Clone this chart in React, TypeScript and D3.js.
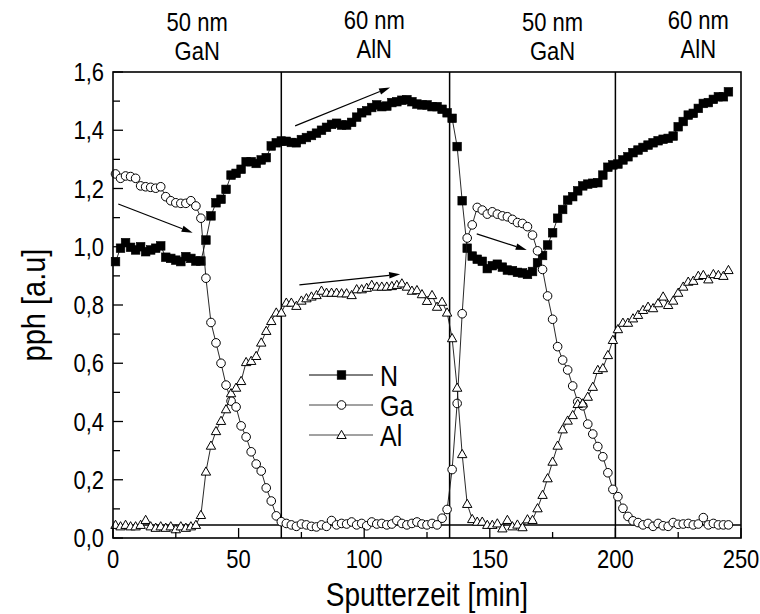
import React from 'react';
import * as d3 from 'd3';

// sputter time [min]
const time = [
  1, 3, 5, 7, 9, 11, 13, 15, 17, 19, 21, 23, 25, 27, 29, 31, 33, 35, 37, 39,
  41, 43, 45, 47, 49, 51, 53, 55, 57, 59, 61, 63, 65, 67, 69, 71, 73, 75, 77, 79,
  81, 83, 85, 87, 89, 91, 93, 95, 97, 99, 101, 103, 105, 107, 109, 111, 113, 115, 117, 119,
  121, 123, 125, 127, 129, 131, 133, 135, 137, 139, 141, 143, 145, 147, 149, 151, 153, 155, 157, 159,
  161, 163, 165, 167, 169, 171, 173, 175, 177, 179, 181, 183, 185, 187, 189, 191, 193, 195, 197, 199,
  201, 203, 205, 207, 209, 211, 213, 215, 217, 219, 221, 223, 225, 227, 229, 231, 233, 235, 237, 239,
  241, 243, 245,
];

const nitrogen = [
  0.949, 0.995, 1.014, 0.998, 0.989, 1.0, 0.983, 0.989, 0.995, 1.003, 0.964, 0.96, 0.954, 0.949, 0.966, 0.96, 0.951, 0.951,
  1.023, 1.106, 1.151, 1.163, 1.197, 1.246, 1.252, 1.266, 1.292, 1.292, 1.286, 1.298, 1.306, 1.346, 1.357,
  1.363, 1.362, 1.358, 1.357, 1.368, 1.375, 1.382, 1.39, 1.4, 1.41, 1.42, 1.424, 1.418, 1.418, 1.427, 1.445, 1.46,
  1.467, 1.478, 1.487, 1.481, 1.483, 1.495, 1.498, 1.503, 1.505, 1.498, 1.49, 1.487, 1.487, 1.481, 1.481, 1.472, 1.46,
  1.441, 1.344, 1.158, 0.995, 0.968,
  0.957, 0.95, 0.925, 0.935, 0.94, 0.93, 0.92, 0.918, 0.912, 0.91, 0.905, 0.915, 0.945, 0.97, 1.006, 1.048, 1.098,
  1.128, 1.16, 1.172, 1.192, 1.209, 1.215, 1.218, 1.22, 1.246, 1.273, 1.281, 1.284, 1.298, 1.309, 1.323, 1.332,
  1.341, 1.349, 1.357, 1.364, 1.369, 1.372, 1.38, 1.412, 1.43, 1.452, 1.458, 1.475, 1.492, 1.495, 1.506, 1.515,
  1.515, 1.532,
];

const gallium = [
  1.25, 1.235, 1.243, 1.241, 1.235, 1.209, 1.206, 1.204, 1.201, 1.206, 1.172, 1.158, 1.151, 1.149, 1.149, 1.158, 1.14, 1.098,
  0.892, 0.74, 0.67, 0.6, 0.525, 0.47, 0.45, 0.385, 0.347, 0.296, 0.254, 0.23, 0.172, 0.127, 0.076, 0.056,
  0.05, 0.045, 0.04, 0.048, 0.045, 0.04, 0.038, 0.045, 0.04, 0.06, 0.045, 0.05, 0.048, 0.055, 0.045, 0.05,
  0.042, 0.055, 0.048, 0.05, 0.045, 0.048, 0.06, 0.05, 0.045, 0.05, 0.055, 0.048, 0.045, 0.05, 0.045,
  0.068, 0.098, 0.235, 0.462, 0.77, 1.03, 1.075,
  1.135, 1.126, 1.112, 1.12, 1.112, 1.106, 1.103, 1.094, 1.083, 1.08, 1.069, 1.04, 0.986, 0.922,
  0.831, 0.751, 0.657, 0.611, 0.577, 0.522, 0.468, 0.454, 0.391, 0.357, 0.314, 0.279, 0.224, 0.167, 0.142, 0.102, 0.074,
  0.059, 0.053, 0.045, 0.05, 0.04, 0.05, 0.042, 0.04, 0.053, 0.047, 0.048, 0.05, 0.045, 0.048, 0.07, 0.045,
  0.05, 0.045, 0.045, 0.045,
];

const aluminium = [
  0.045, 0.04, 0.045, 0.04, 0.04, 0.045, 0.062, 0.04, 0.035, 0.04, 0.035, 0.04, 0.03, 0.04, 0.035, 0.04, 0.045,
  0.079, 0.228, 0.317, 0.367, 0.402, 0.442, 0.497, 0.516, 0.539, 0.604, 0.608, 0.625, 0.671, 0.711, 0.745, 0.774,
  0.774, 0.808, 0.808, 0.797, 0.815, 0.823, 0.829, 0.834, 0.849, 0.842, 0.842, 0.842, 0.84, 0.84, 0.834, 0.854, 0.854,
  0.859, 0.869, 0.863, 0.863, 0.863, 0.865, 0.869, 0.874, 0.863, 0.849, 0.851, 0.837, 0.814, 0.834, 0.794, 0.811, 0.774,
  0.686, 0.516, 0.288, 0.117, 0.065,
  0.056, 0.056, 0.045, 0.045, 0.05, 0.033, 0.062, 0.04, 0.046, 0.037, 0.064, 0.062,
  0.102, 0.148, 0.205, 0.262, 0.317, 0.373, 0.403, 0.422, 0.46, 0.462, 0.485, 0.519, 0.577, 0.583, 0.628, 0.68,
  0.717, 0.739, 0.739, 0.754, 0.766, 0.783, 0.794, 0.789, 0.806, 0.829, 0.8, 0.815, 0.842, 0.863, 0.88, 0.883,
  0.9, 0.903, 0.888, 0.906, 0.903, 0.9, 0.92,
];

const seriesNames = ['N', 'Ga', 'Al'];
const xTicks = [0, 50, 100, 150, 200, 250];
const xMinorTicks = [25, 75, 125, 175, 225];
const yTicks = [0, 0.2, 0.4, 0.6, 0.8, 1.0, 1.2, 1.4, 1.6];
const yMinorTicks = [0.1, 0.3, 0.5, 0.7, 0.9, 1.1, 1.3, 1.5];
const layerBoundaries = [67, 134, 200];
const baselineLevel = 0.045;
const layerThickness = ['50 nm', '60 nm', '50 nm', '60 nm'];
const layerMaterial = ['GaN', 'AlN', 'GaN', 'AlN'];
const layerLabelTime = [33.5, 104, 175, 233];
// arrows: [t0, v0, t1, v1]
const arrows = [
  [2.1, 1.147, 31.7, 1.048],
  [72.5, 1.415, 110.3, 1.547],
  [74.2, 0.869, 114.3, 0.906],
  [144.8, 1.044, 164.7, 0.989],
];

const W = 760;
const H = 614;
const M = { left: 113, right: 741, top: 72, bottom: 538 };
const FONT = '"Liberation Sans", Arial, Helvetica, sans-serif';
const STRETCH = 1.17;

const x = d3.scaleLinear().domain([0, 250]).range([M.left, M.right]);
const y = d3.scaleLinear().domain([0, 1.6]).range([M.bottom, M.top]);
const fmt = (v: number) => d3.format('.1f')(v).replace('.', ',');

type Kind = 'square' | 'circle' | 'triangle';

function Txt({
  px, py, size, anchor = 'start', rotate = 0, children,
}: { px: number; py: number; size: number; anchor?: string; rotate?: number; children: React.ReactNode }) {
  return (
    <text
      transform={`translate(${px},${py}) rotate(${rotate}) scale(1,${STRETCH})`}
      fontSize={size}
      textAnchor={anchor as any}
      fill="#000"
    >
      {children}
    </text>
  );
}

function Marker({ kind, cx, cy }: { kind: Kind; cx: number; cy: number }) {
  if (kind === 'square') {
    return <rect x={cx - 4.3} y={cy - 4.3} width={8.6} height={8.6} fill="#000" stroke="#000" strokeWidth={0.6} />;
  }
  if (kind === 'circle') {
    return <circle cx={cx} cy={cy} r={4.3} fill="#fff" stroke="#000" strokeWidth={1} />;
  }
  const s = 4.7;
  return (
    <path
      d={`M${cx},${cy - s}L${cx + s},${cy + s * 0.75}L${cx - s},${cy + s * 0.75}Z`}
      fill="#fff"
      stroke="#000"
      strokeWidth={1}
    />
  );
}

function Series({ values, kind }: { values: number[]; kind: Kind }) {
  const line = d3
    .line<number>()
    .x((_, i) => x(time[i]))
    .y((v) => y(v));
  return (
    <g>
      <path d={line(values) || ''} fill="none" stroke="#111" strokeWidth={0.9} />
      {values.map((v, i) => (
        <Marker key={i} kind={kind} cx={x(time[i])} cy={y(v)} />
      ))}
    </g>
  );
}

function Arrow({ a }: { a: number[] }) {
  const x0 = x(a[0]);
  const y0 = y(a[1]);
  const x1 = x(a[2]);
  const y1 = y(a[3]);
  const ang = Math.atan2(y1 - y0, x1 - x0);
  const len = 11;
  const half = 3.2;
  const bx = x1 - len * Math.cos(ang);
  const by = y1 - len * Math.sin(ang);
  const px = -Math.sin(ang) * half;
  const py = Math.cos(ang) * half;
  return (
    <g>
      <line x1={x0} y1={y0} x2={bx} y2={by} stroke="#000" strokeWidth={1.2} />
      <path d={`M${x1},${y1}L${bx + px},${by + py}L${bx - px},${by - py}Z`} fill="#000" />
    </g>
  );
}

export default function App() {
  const kinds: Kind[] = ['square', 'circle', 'triangle'];
  const legendX0 = 309;
  const legendX1 = 373;
  const legendY = [375, 405, 435];
  return (
    <svg
      width={W}
      height={H}
      viewBox={`0 0 ${W} ${H}`}
      style={{ position: 'absolute', left: 0, top: 0, background: '#fff' }}
      fontFamily={FONT}
    >
      <rect x={0} y={0} width={W} height={H} fill="#fff" />

      {/* layer labels */}
      {layerLabelTime.map((t, i) => (
        <g key={i}>
          <Txt px={x(t)} py={i % 2 === 0 ? 31 : 29} size={22} anchor="middle">{layerThickness[i]}</Txt>
          <Txt px={x(t)} py={i % 2 === 0 ? 60 : 58} size={22} anchor="middle">{layerMaterial[i]}</Txt>
        </g>
      ))}

      {/* baseline */}
      <line x1={x(0)} x2={x(250)} y1={y(baselineLevel)} y2={y(baselineLevel)} stroke="#000" strokeWidth={1.5} />

      {/* layer boundaries */}
      {layerBoundaries.map((b) => (
        <line key={b} x1={x(b)} x2={x(b)} y1={M.top} y2={M.bottom} stroke="#000" strokeWidth={1.5} />
      ))}

      <Series values={nitrogen} kind="square" />
      <Series values={gallium} kind="circle" />
      <Series values={aluminium} kind="triangle" />

      {arrows.map((a, i) => (
        <Arrow key={i} a={a} />
      ))}

      {/* legend */}
      {seriesNames.map((name, i) => (
        <g key={name}>
          <line x1={legendX0} x2={legendX1} y1={legendY[i]} y2={legendY[i]} stroke={i === 0 ? '#000' : '#444'} strokeWidth={1} />
          <Marker kind={kinds[i]} cx={(legendX0 + legendX1) / 2 + 0.5} cy={legendY[i]} />
          <Txt px={380} py={legendY[i] + 10.5} size={25}>{name}</Txt>
        </g>
      ))}

      {/* frame */}
      <rect x={M.left} y={M.top} width={M.right - M.left} height={M.bottom - M.top} fill="none" stroke="#000" strokeWidth={1.6} />

      {/* x ticks */}
      {xTicks.map((t) => (
        <g key={t}>
          <line x1={x(t)} x2={x(t)} y1={M.bottom} y2={M.bottom - 10} stroke="#000" strokeWidth={1.3} />
          <Txt px={x(t)} py={M.bottom + 30} size={22} anchor="middle">{t}</Txt>
        </g>
      ))}
      {xMinorTicks.map((t) => (
        <line key={t} x1={x(t)} x2={x(t)} y1={M.bottom} y2={M.bottom - 6} stroke="#000" strokeWidth={1.3} />
      ))}

      {/* y ticks */}
      {yTicks.map((v) => (
        <g key={v}>
          <line x1={M.left} x2={M.left + 10} y1={y(v)} y2={y(v)} stroke="#000" strokeWidth={1.3} />
          <Txt px={M.left - 9} py={y(v) + 9.2} size={22} anchor="end">{fmt(v)}</Txt>
        </g>
      ))}
      {yMinorTicks.map((v) => (
        <line key={v} x1={M.left} x2={M.left + 7} y1={y(v)} y2={y(v)} stroke="#000" strokeWidth={1.3} />
      ))}

      {/* axis titles */}
      <Txt px={(M.left + M.right) / 2} py={606} size={28} anchor="middle">Sputterzeit [min]</Txt>
      <Txt px={45} py={(M.top + M.bottom) / 2} size={29} anchor="middle" rotate={-90}>pph [a.u]</Txt>
    </svg>
  );
}
